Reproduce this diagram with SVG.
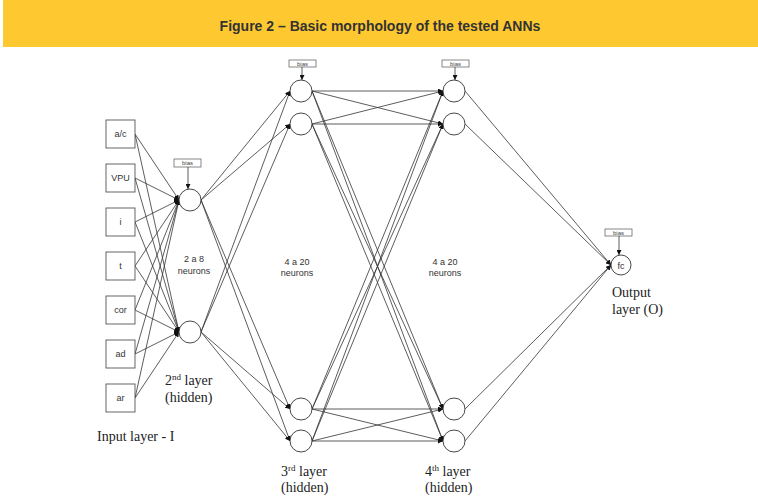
<svg xmlns="http://www.w3.org/2000/svg" width="758" height="501" viewBox="0 0 758 501">
<defs>
<marker id="ah" markerUnits="userSpaceOnUse" markerWidth="6" markerHeight="5" refX="5" refY="2.5" orient="auto"><path d="M0,0 L5,2.5 L0,5 Z" fill="#111"/></marker>
<style>
.ln{stroke:#333;stroke-width:0.8;fill:none;marker-end:url(#ah)}
.nd{stroke:#333;stroke-width:0.9;fill:#fff}
.bx{stroke:#555;stroke-width:0.9;fill:#fff}
.bb{stroke:#555;stroke-width:0.7;fill:#fff}
.lb{font-family:"Liberation Sans",Arial,sans-serif;font-size:9px;fill:#333;text-anchor:middle}
.bt{font-family:"Liberation Sans",Arial,sans-serif;font-size:6px;fill:#444;text-anchor:middle}
.sr{font-family:"Liberation Serif","Times New Roman",serif;font-size:14px;fill:#222}
</style>
</defs>
<rect width="758" height="501" fill="#fff"/>
<rect x="3" y="0" width="755" height="47" fill="#FEC830"/>
<text x="380" y="31" font-family="'Liberation Sans',Arial,sans-serif" font-size="14" font-weight="bold" fill="#333" text-anchor="middle">Figure 2 – Basic morphology of the tested ANNs</text>
<g id="connectors">
<line class="ln" x1="135" y1="134" x2="179" y2="200"/><line class="ln" x1="135" y1="134" x2="179" y2="332"/>
<line class="ln" x1="135" y1="178" x2="179" y2="200"/><line class="ln" x1="135" y1="178" x2="179" y2="332"/>
<line class="ln" x1="135" y1="222" x2="179" y2="200"/><line class="ln" x1="135" y1="222" x2="179" y2="332"/>
<line class="ln" x1="135" y1="266" x2="179" y2="200"/><line class="ln" x1="135" y1="266" x2="179" y2="332"/>
<line class="ln" x1="135" y1="310" x2="179" y2="200"/><line class="ln" x1="135" y1="310" x2="179" y2="332"/>
<line class="ln" x1="135" y1="354" x2="179" y2="200"/><line class="ln" x1="135" y1="354" x2="179" y2="332"/>
<line class="ln" x1="135" y1="398" x2="179" y2="200"/><line class="ln" x1="135" y1="398" x2="179" y2="332"/>
<line class="ln" x1="201" y1="200" x2="290" y2="91"/><line class="ln" x1="201" y1="200" x2="290" y2="124"/>
<line class="ln" x1="201" y1="200" x2="290" y2="409"/><line class="ln" x1="201" y1="200" x2="290" y2="441"/>
<line class="ln" x1="201" y1="332" x2="290" y2="91"/><line class="ln" x1="201" y1="332" x2="290" y2="124"/>
<line class="ln" x1="201" y1="332" x2="290" y2="409"/><line class="ln" x1="201" y1="332" x2="290" y2="441"/>
<line class="ln" x1="312" y1="91" x2="443" y2="91"/><line class="ln" x1="312" y1="91" x2="443" y2="124"/>
<line class="ln" x1="312" y1="91" x2="443" y2="409"/><line class="ln" x1="312" y1="91" x2="443" y2="441"/>
<line class="ln" x1="312" y1="124" x2="443" y2="91"/><line class="ln" x1="312" y1="124" x2="443" y2="124"/>
<line class="ln" x1="312" y1="124" x2="443" y2="409"/><line class="ln" x1="312" y1="124" x2="443" y2="441"/>
<line class="ln" x1="312" y1="409" x2="443" y2="91"/><line class="ln" x1="312" y1="409" x2="443" y2="124"/>
<line class="ln" x1="312" y1="409" x2="443" y2="409"/><line class="ln" x1="312" y1="409" x2="443" y2="441"/>
<line class="ln" x1="312" y1="441" x2="443" y2="91"/><line class="ln" x1="312" y1="441" x2="443" y2="124"/>
<line class="ln" x1="312" y1="441" x2="443" y2="409"/><line class="ln" x1="312" y1="441" x2="443" y2="441"/>
<line class="ln" x1="465" y1="91" x2="611" y2="265"/><line class="ln" x1="465" y1="124" x2="611" y2="265"/>
<line class="ln" x1="465" y1="409" x2="611" y2="265"/><line class="ln" x1="465" y1="441" x2="611" y2="265"/>
<line class="ln" x1="188" y1="167" x2="188" y2="189"/>
<line class="ln" x1="302" y1="67" x2="302" y2="80"/>
<line class="ln" x1="455" y1="67" x2="455" y2="80"/>
<line class="ln" x1="619" y1="236" x2="619" y2="255"/>
</g>
<g id="in-ac"><rect class="bx" x="106" y="120" width="29" height="28"/><text class="lb" x="120.5" y="137">a/c</text></g>
<g id="in-vpu"><rect class="bx" x="106" y="164" width="29" height="28"/><text class="lb" x="120.5" y="181">VPU</text></g>
<g id="in-i"><rect class="bx" x="106" y="208" width="29" height="28"/><text class="lb" x="120.5" y="225">i</text></g>
<g id="in-t"><rect class="bx" x="106" y="252" width="29" height="28"/><text class="lb" x="120.5" y="269">t</text></g>
<g id="in-cor"><rect class="bx" x="106" y="296" width="29" height="28"/><text class="lb" x="120.5" y="313">cor</text></g>
<g id="in-ad"><rect class="bx" x="106" y="340" width="29" height="28"/><text class="lb" x="120.5" y="357">ad</text></g>
<g id="in-ar"><rect class="bx" x="106" y="384" width="29" height="28"/><text class="lb" x="120.5" y="401">ar</text></g>
<g id="bias2"><rect class="bb" x="174" y="159" width="27" height="8"/><text class="bt" x="187.5" y="165.2">bias</text></g>
<g id="bias3"><rect class="bb" x="289" y="60" width="27" height="7"/><text class="bt" x="302.5" y="65.6">bias</text></g>
<g id="bias4"><rect class="bb" x="442" y="60" width="27" height="7"/><text class="bt" x="455.5" y="65.6">bias</text></g>
<g id="biasO"><rect class="bb" x="605" y="229" width="27" height="7"/><text class="bt" x="618.5" y="234.6">bias</text></g>
<g id="h2a"><circle class="nd" cx="190" cy="200" r="11"/></g>
<g id="h2b"><circle class="nd" cx="190" cy="332" r="11"/></g>
<g id="h3a"><circle class="nd" cx="301" cy="91" r="11"/></g>
<g id="h3b"><circle class="nd" cx="301" cy="124" r="11"/></g>
<g id="h3c"><circle class="nd" cx="301" cy="409" r="11"/></g>
<g id="h3d"><circle class="nd" cx="301" cy="441" r="11"/></g>
<g id="h4a"><circle class="nd" cx="454" cy="91" r="11"/></g>
<g id="h4b"><circle class="nd" cx="454" cy="124" r="11"/></g>
<g id="h4c"><circle class="nd" cx="454" cy="409" r="11"/></g>
<g id="h4d"><circle class="nd" cx="454" cy="441" r="11"/></g>
<g id="out-fc"><circle class="nd" cx="621" cy="265" r="10"/><text class="lb" x="621" y="268.5">fc</text></g>
<g id="labels">
<text class="lb" x="194" y="262">2 a 8</text><text class="lb" x="194" y="274">neurons</text>
<text class="lb" x="297" y="265">4 a 20</text><text class="lb" x="297" y="276">neurons</text>
<text class="lb" x="445" y="265">4 a 20</text><text class="lb" x="445" y="276">neurons</text>
<text class="sr" x="165" y="385">2<tspan font-size="9" dy="-5">nd</tspan><tspan dy="5"> layer</tspan></text>
<text class="sr" x="165" y="402">(hidden)</text>
<text class="sr" x="97" y="441">Input layer - I</text>
<text class="sr" x="281" y="476">3<tspan font-size="9" dy="-5">rd</tspan><tspan dy="5"> layer</tspan></text>
<text class="sr" x="281" y="492">(hidden)</text>
<text class="sr" x="425" y="476">4<tspan font-size="9" dy="-5">th</tspan><tspan dy="5"> layer</tspan></text>
<text class="sr" x="425" y="492">(hidden)</text>
<text class="sr" x="612" y="297">Output</text>
<text class="sr" x="612" y="314">layer (O)</text>
</g>
</svg>
